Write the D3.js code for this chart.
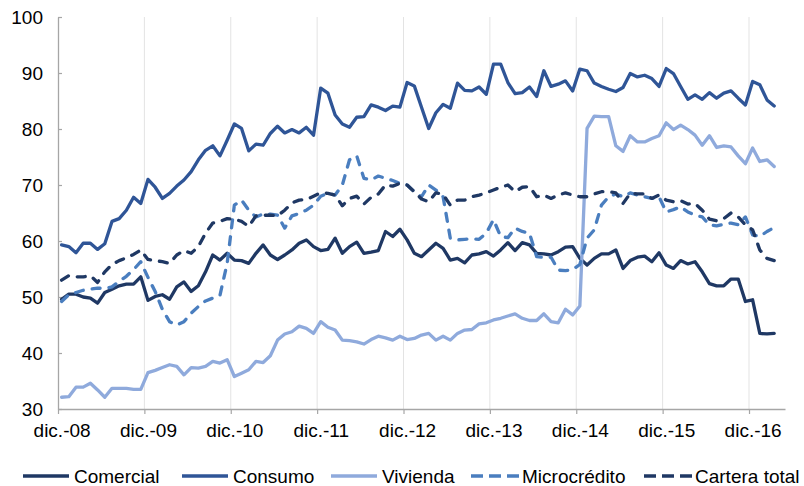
<!DOCTYPE html>
<html><head><meta charset="utf-8">
<script src="https://cdn.jsdelivr.net/npm/d3@7"></script>
<style>
html,body{margin:0;padding:0;background:#fff;}
svg{display:block;font-family:"Liberation Sans",Arial,sans-serif;}
</style></head>
<body><svg id="c" width="804" height="486"></svg>
<script>
const tickLabels = ["dic.-08","dic.-09","dic.-10","dic.-11","dic.-12","dic.-13","dic.-14","dic.-15","dic.-16"];
const yTicks = [30,40,50,60,70,80,90,100];

const comercial = [49.6,50.5,50.5,50.0,49.8,48.9,50.8,51.4,52.0,52.3,
52.3,53.6,49.4,50.1,50.4,49.6,51.8,52.7,51.0,52.0,
54.5,57.5,56.6,57.8,56.6,56.5,56.0,57.8,59.3,57.5,
56.7,57.5,58.4,59.6,60.2,59.0,58.3,58.5,60.5,57.8,
59.0,59.8,57.8,58.0,58.3,61.7,60.8,62.1,60.2,57.8,
57.2,58.4,59.6,58.7,56.6,56.9,56.1,57.5,57.7,58.1,
57.3,58.4,59.7,58.3,59.7,59.3,57.8,57.7,57.5,58.1,
58.9,59.0,56.9,55.7,56.9,57.7,57.7,58.4,55.1,56.5,
57.1,57.3,56.3,57.9,55.7,55.1,56.5,55.9,56.3,54.5,
52.4,52.0,52.0,53.2,53.2,49.2,49.5,43.5,43.4,43.5];

const consumo = [59.3,59.0,57.9,59.6,59.6,58.5,59.5,63.5,64.0,65.5,
67.8,66.7,71.0,69.6,67.6,68.5,69.8,70.9,72.4,74.5,
76.2,77.0,75.2,78.0,80.9,80.1,76.1,77.3,77.1,79.2,
80.5,79.3,79.9,79.3,80.3,78.9,87.3,86.4,82.5,80.9,
80.3,82.1,82.2,84.3,83.9,83.3,84.1,83.9,88.3,87.7,
83.9,80.1,82.9,84.4,83.7,88.2,86.9,86.8,87.5,86.2,
91.6,91.6,88.3,86.3,86.5,87.5,85.8,90.4,87.6,88.0,
88.6,86.8,90.7,90.4,88.2,87.6,87.1,86.7,87.4,89.9,
89.3,89.6,89.0,87.6,90.8,89.9,87.6,85.3,86.1,85.3,
86.5,85.5,86.4,86.8,85.5,84.3,88.5,87.9,85.2,84.1];

const vivienda = [32.1,32.2,33.9,33.9,34.6,33.4,32.1,33.7,33.7,33.7,
33.5,33.5,36.5,36.9,37.4,37.9,37.6,36.1,37.4,37.3,
37.6,38.5,38.2,38.8,35.8,36.4,37.0,38.5,38.3,39.5,
42.3,43.4,43.8,44.8,44.4,43.5,45.6,44.6,44.1,42.3,
42.2,42.0,41.6,42.4,43.0,42.7,42.3,43.0,42.4,42.6,
43.2,43.5,42.3,43.0,42.3,43.5,44.1,44.2,45.2,45.4,
45.9,46.2,46.6,47.0,46.2,45.8,45.8,47.0,45.6,45.4,
47.8,46.8,48.4,80.1,82.3,82.2,82.2,77.0,76.0,78.8,
77.7,77.7,78.3,78.8,81.1,79.9,80.7,79.9,78.9,77.1,
78.8,76.7,77.0,76.8,75.2,73.8,76.6,74.2,74.5,73.3];

const microcredito = [49.2,50.4,50.8,51.2,51.4,51.6,51.5,51.8,52.8,53.7,
54.9,56.3,53.5,51.0,47.8,45.6,45.0,45.6,47.1,48.3,
49.3,49.8,50.3,56.0,66.4,67.3,65.5,64.3,64.8,64.8,
64.6,62.3,64.5,64.9,65.5,66.4,68.0,68.5,68.2,70.0,
74.5,75.2,71.2,70.9,71.6,71.2,70.8,70.3,70.0,68.8,
67.9,70.0,69.1,67.9,60.5,60.2,60.3,60.4,60.3,61.4,
63.8,60.8,60.6,62.3,61.7,61.4,57.2,57.1,57.1,54.8,
54.7,54.9,55.8,60.5,62.0,66.4,67.9,68.4,67.9,68.6,
68.2,67.9,67.6,67.9,65.2,65.6,66.1,65.2,64.6,64.3,
62.9,62.7,63.0,63.2,62.9,64.3,61.1,60.8,61.7,62.4];

const carteraTotal = [53.0,53.8,53.6,53.6,53.8,52.6,54.5,55.8,56.5,57.0,
57.6,58.4,56.7,56.5,56.3,56.0,57.5,58.3,57.8,59.0,
61.4,63.2,63.5,64.0,63.9,63.5,62.6,64.5,64.6,64.6,
64.5,65.5,66.8,67.3,67.4,68.0,68.6,68.5,68.2,66.3,
67.6,68.0,66.6,67.8,68.4,70.0,69.8,70.3,70.0,68.8,
67.5,67.0,68.6,68.3,66.4,67.3,67.3,67.9,68.2,68.6,
69.1,69.6,70.0,68.8,69.6,69.7,67.9,68.2,67.6,68.2,
68.6,68.2,67.9,67.9,68.4,68.8,68.8,68.6,66.7,68.5,
68.4,68.4,67.6,68.2,67.3,67.0,67.2,66.6,66.7,65.5,
63.9,63.6,64.0,65.0,64.3,62.9,62.0,58.4,56.9,56.5];

const seriesNames = ["Comercial","Consumo","Vivienda","Microcrédito","Cartera total"];
const seriesData = [comercial, consumo, vivienda, microcredito, carteraTotal];
const seriesColors = ["#1F3864","#2F5597","#8FAADC","#4A7EBF","#1F3864"];
const seriesDashed = [false,false,false,true,true];

(function(){
const svg = d3.select("#c");
const pl = 58, pr = 785, pt = 17, pb = 409;
const nSlots = 101;
const x = d3.scaleLinear().domain([-0.5, nSlots - 0.5]).range([pl, pr]);
const y = d3.scaleLinear().domain([30, 100]).range([pb, pt]);

const gridIdx = d3.range(1, tickLabels.length).map(k => k*12 - 0.5);
svg.append("g").selectAll("line").data(gridIdx).join("line")
  .attr("x1", d => x(d)).attr("x2", d => x(d))
  .attr("y1", pt).attr("y2", pb)
  .attr("stroke", "#E3E3E3").attr("stroke-width", 1);

const xAxisMarks = svg.append("g").attr("transform", `translate(0,${pb})`)
  .call(d3.axisBottom(x).tickValues(d3.range(0, tickLabels.length).map(k => k*12 - 0.5)).tickFormat("").tickSize(5).tickSizeOuter(0));
xAxisMarks.select(".domain").attr("stroke", "#A6A6A6").attr("stroke-width", 1.3);
xAxisMarks.selectAll(".tick line").attr("stroke", "#A6A6A6").attr("stroke-width", 1.2);

const xAxisLabels = svg.append("g").attr("transform", `translate(0,${pb})`)
  .call(d3.axisBottom(x).tickValues(d3.range(0, tickLabels.length).map(k => k*12))
    .tickFormat((d,i) => tickLabels[i]).tickSize(0).tickPadding(15));
xAxisLabels.select(".domain").remove();
xAxisLabels.selectAll("text").attr("font-size", 19).attr("fill", "#000")
  .attr("font-family", "Liberation Sans, Arial, sans-serif");

const yAxis = svg.append("g").attr("transform", `translate(${pl},0)`)
  .call(d3.axisLeft(y).tickValues(yTicks).tickSize(-4).tickSizeOuter(0).tickPadding(15));
yAxis.select(".domain").attr("stroke", "#A6A6A6").attr("stroke-width", 1.3);
yAxis.selectAll(".tick line").attr("stroke", "#A6A6A6").attr("stroke-width", 1.2);
yAxis.selectAll("text").attr("font-size", 19).attr("fill", "#000")
  .attr("font-family", "Liberation Sans, Arial, sans-serif");

const line = d3.line().x((d,i) => x(i)).y(d => y(d));
seriesData.forEach((data, s) => {
  svg.append("path").datum(data)
    .attr("d", line)
    .attr("fill", "none")
    .attr("stroke", seriesColors[s])
    .attr("stroke-width", 3.3)
    .attr("stroke-linejoin", "round")
    .attr("stroke-linecap", "round")
    .attr("stroke-dasharray", seriesDashed[s] ? "8,9" : null);
});

const legendX = [23, 182, 331, 471, 644];
const legendY = 476;
const lg = svg.append("g");
seriesNames.forEach((name, s) => {
  const g = lg.append("g").attr("transform", `translate(${legendX[s]},${legendY})`);
  g.append("line").attr("x1", 0).attr("x2", seriesDashed[s] ? 48 : 46).attr("y1", 0).attr("y2", 0)
    .attr("stroke", seriesColors[s]).attr("stroke-width", 3.3)
    .attr("stroke-dasharray", seriesDashed[s] ? "12,6" : null);
  g.append("text").attr("x", 51).attr("y", 7)
    .attr("font-size", 19).attr("fill", "#000").text(name);
});
})();
</script>
</body></html>
